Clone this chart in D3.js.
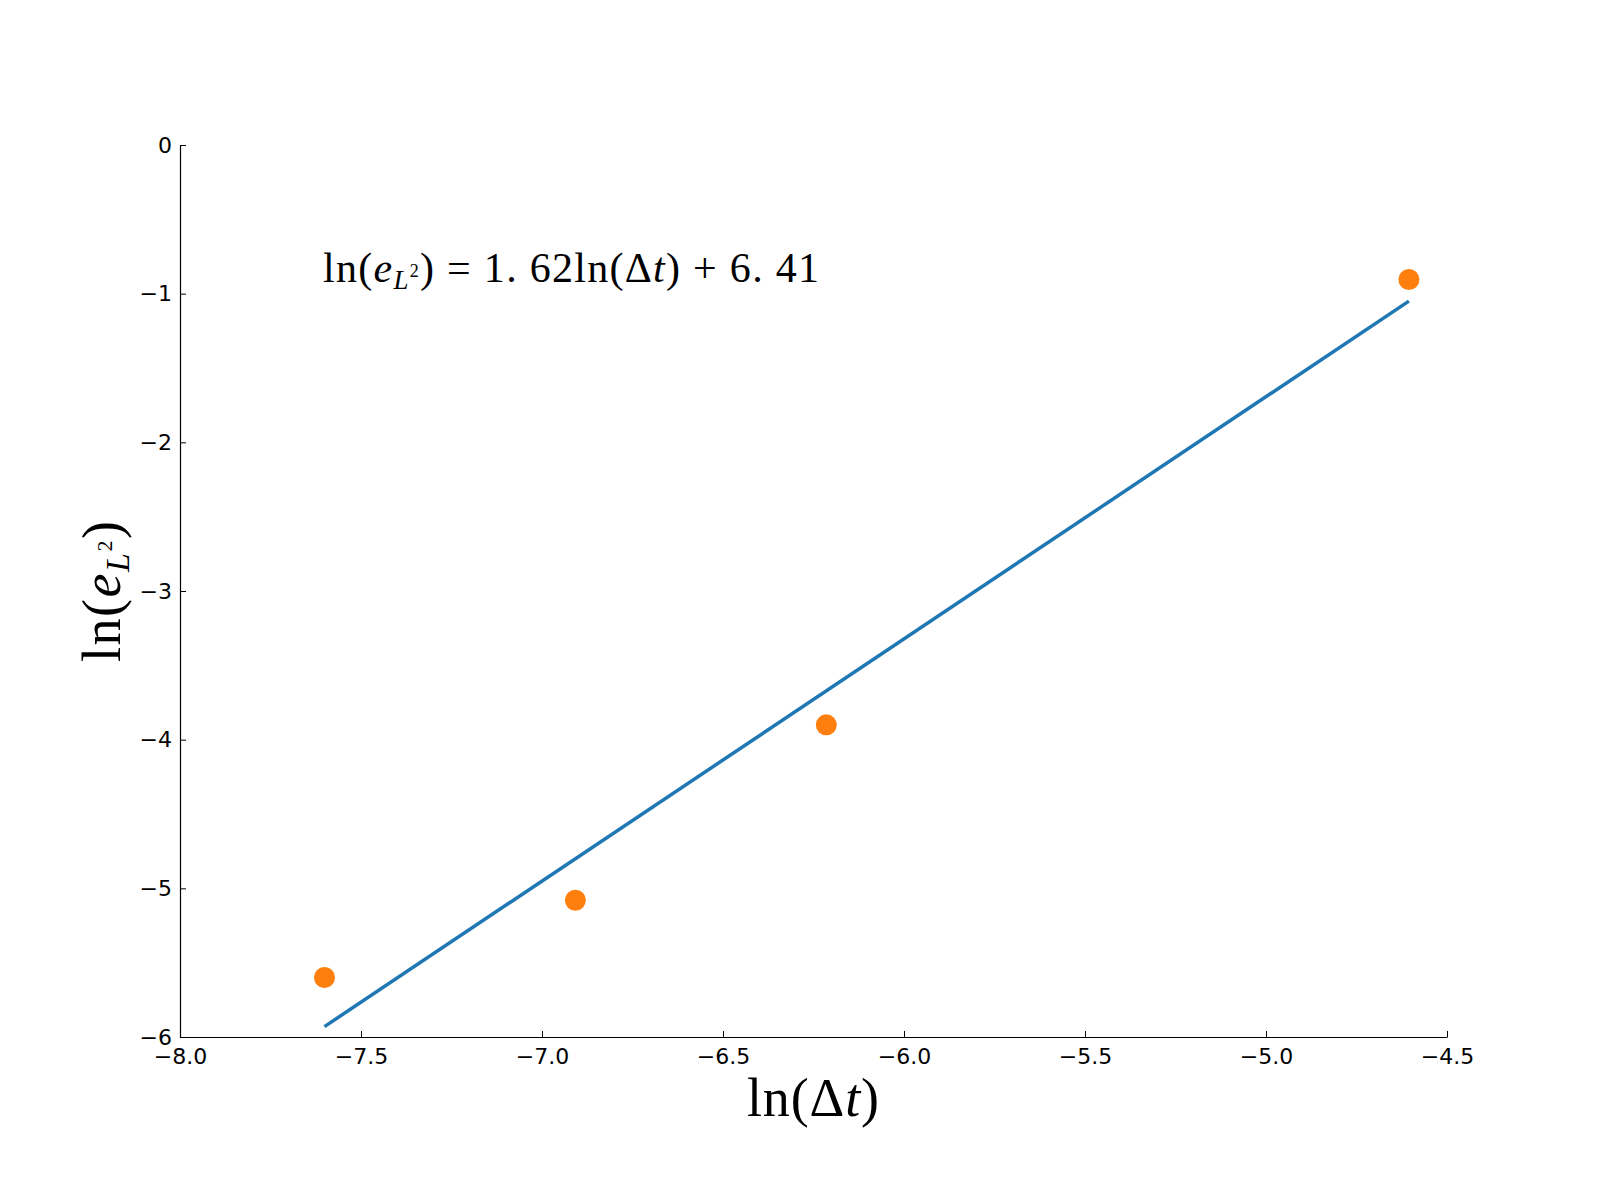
<!DOCTYPE html>
<html lang="en">
<head>
    <meta charset="UTF-8">
    <title>Convergence ln(e) vs ln(dt)</title>
    <script src="https://d3js.org/d3.v7.min.js"></script>
    <style>
        body { margin: 0; background: #fff; }
        .tick text { font-family: "DejaVu Sans", sans-serif; font-size: 22px; fill: #000; }
        .math { font-family: "Liberation Serif", "DejaVu Serif", serif; fill: #000; }
    </style>
</head>
<body>
<div id="chart"></div>

<script>
    // measured points (ln dt, ln error)
    const lnDt = [-7.6009, -6.9078, -6.2146, -4.6052];
    const lnErr = [-5.60, -5.08, -3.90, -0.905];

    // fitted line end points
    const fitX = [-7.6009, -4.6052];
    const fitY = [-5.93, -1.05];

    const xTicks = [-8.0, -7.5, -7.0, -6.5, -6.0, -5.5, -5.0, -4.5];
    const yTicks = [0, -1, -2, -3, -4, -5, -6];

    const width = 1600, height = 1200;
    const margin = {left: 180, right: 153, top: 145, bottom: 163};

    const svg = d3.select("#chart").append("svg")
        .attr("width", width)
        .attr("height", height);

    const x = d3.scaleLinear().domain([-8, -4.5]).range([margin.left, width - margin.right]);
    const y = d3.scaleLinear().domain([-6, 0]).range([height - margin.bottom, margin.top]);

    // only left and bottom spines, ticks pointing inward
    const xAxis = svg.append("g")
        .attr("transform", "translate(0," + y(-6) + ")")
        .call(d3.axisBottom(x).tickValues(xTicks).tickFormat(d3.format(".1f")).tickSizeInner(-6).tickSizeOuter(0).tickPadding(11));
    xAxis.select(".domain").attr("stroke", "#000").attr("stroke-width", 1.2);

    const yAxis = svg.append("g")
        .attr("transform", "translate(" + x(-8) + ",0)")
        .call(d3.axisLeft(y).tickValues(yTicks).tickFormat(d3.format("d")).tickSizeInner(-6).tickSizeOuter(0).tickPadding(8));
    yAxis.select(".domain").attr("stroke", "#000").attr("stroke-width", 1.2);

    // fit line
    const line = d3.line().x(d => x(d[0])).y(d => y(d[1]));
    svg.append("path")
        .datum(d3.zip(fitX, fitY))
        .attr("d", line)
        .attr("fill", "none")
        .attr("stroke", "#1f77b4")
        .attr("stroke-width", 3.5);

    // data points
    svg.append("g").selectAll("circle")
        .data(d3.zip(lnDt, lnErr))
        .join("circle")
        .attr("cx", d => x(d[0]))
        .attr("cy", d => y(d[1]))
        .attr("r", 10.5)
        .attr("fill", "#ff7f0e");

    // helper to write math-like text with italic parts and sub/superscripts
    function mathText(g, parts, size, len) {
        const t = g.append("text").attr("class", "math").attr("font-size", size);
        parts.forEach(p => {
            const s = t.append("tspan").text(p.t);
            if (p.i) s.attr("font-style", "italic");
            if (p.dy) s.attr("dy", p.dy);
            if (p.fs) s.attr("font-size", p.fs);
        });
        if (len) t.attr("textLength", len).attr("lengthAdjust", "spacing");
        return t;
    }

    // equation of the fit
    mathText(svg.append("g").attr("transform", "translate(323,282)"), [
        {t: "ln("}, {t: "e", i: true}, {t: "L", i: true, fs: 27, dy: 7}, {t: "2", fs: 18, dy: -12},
        {t: ")", dy: 5}, {t: " = 1. 62ln(Δ"}, {t: "t", i: true}, {t: ") + 6. 41"}
    ], 42, 496);

    // x label
    mathText(svg.append("g").attr("transform", "translate(747,1116)"), [
        {t: "ln(Δ"}, {t: "t", i: true}, {t: ")"}
    ], 54, 132);

    // y label
    mathText(svg.append("g").attr("transform", "translate(120,662) rotate(-90)"), [
        {t: "ln("}, {t: "e", i: true}, {t: "L", i: true, fs: 34, dy: 9}, {t: "2", fs: 22, dy: -17},
        {t: ")", dy: 8}
    ], 54, 141);
</script>
</body>
</html>
